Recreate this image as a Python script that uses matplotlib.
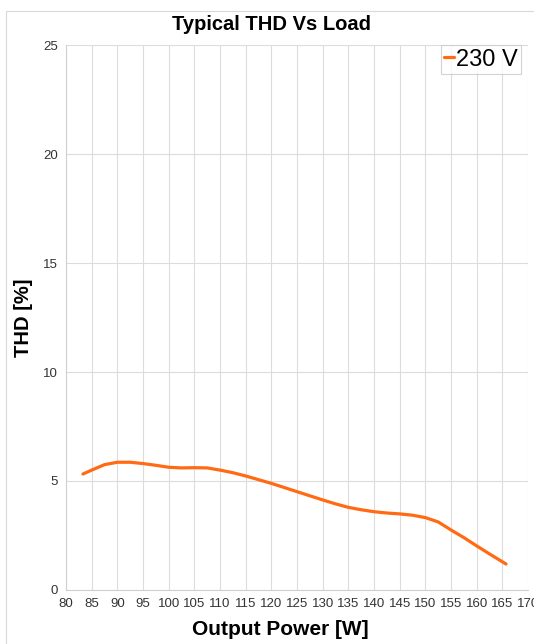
import numpy as np
import matplotlib.pyplot as plt
from matplotlib.patches import Rectangle

# values
power = [83.3, 85, 87.5, 90, 92.5, 95, 97.5, 100, 102.5, 105, 107.5, 110, 112.5,
         115, 117.5, 120, 122.5, 125, 127.5, 130, 132.5, 135, 137.5, 140, 142.5,
         145, 147.5, 150, 152.5, 155, 157.5, 160, 162.5, 165.7]
thd = [5.32, 5.5, 5.75, 5.86, 5.86, 5.8, 5.72, 5.63, 5.6, 5.61, 5.6, 5.5, 5.38,
       5.23, 5.06, 4.89, 4.7, 4.51, 4.32, 4.13, 3.95, 3.79, 3.68, 3.59, 3.53,
       3.49, 3.43, 3.32, 3.12, 2.75, 2.4, 2.02, 1.65, 1.19]
series_name = "230 V"
xticks = np.arange(80, 171, 5)
yticks = np.arange(0, 26, 5)

plt.rcParams['font.family'] = ['Liberation Sans', 'DejaVu Sans']

fig = plt.figure(figsize=(5.34, 6.44), dpi=100)
ax = fig.add_axes([0.1236, 0.0839, 0.8654, 0.8461])

fig.patches.append(Rectangle((6 / 534, -0.1), 1.2, 1.0 - 11 / 644 + 0.1,
                             transform=fig.transFigure, fill=False,
                             edgecolor="#d9d9d9", linewidth=0.8))

ax.plot(power, thd, color="#ff6a13", linewidth=2.3, label=series_name,
        solid_capstyle="round", solid_joinstyle="round")

ax.set_xlim(80, 170)
ax.set_ylim(0, 25)
ax.set_xticks(xticks)
ax.set_yticks(yticks)
ax.tick_params(axis="both", length=0, labelsize=9.5, colors="#333333", pad=6)
ax.grid(True, color="#dcdcdc", linewidth=0.8)
ax.set_axisbelow(True)
for s in ["top", "right"]:
    ax.spines[s].set_visible(False)
for s in ["left", "bottom"]:
    ax.spines[s].set_color("#d0d0d0")
    ax.spines[s].set_linewidth(0.8)

fig.text(271 / 534, 1 - 25 / 644, "Typical THD Vs Load", fontsize=14.5,
         fontweight="bold", ha="center", va="center")
ax.set_xlabel("Output Power [W]", fontsize=15, fontweight="bold", labelpad=7)
ax.xaxis.label.set_x((280 - 66) / 462)
ax.set_ylabel("THD [%]", fontsize=14.5, fontweight="bold", labelpad=7)

leg = ax.legend(loc="upper right", fontsize=17, handlelength=0.4, handletextpad=0.1,
                borderpad=0.15, frameon=True, fancybox=False,
                bbox_to_anchor=(0.985, 1.0), borderaxespad=0.0)
leg.get_frame().set_edgecolor("#c8c8c8")
leg.get_frame().set_linewidth(0.8)

fig.savefig("out.png", dpi=100)
